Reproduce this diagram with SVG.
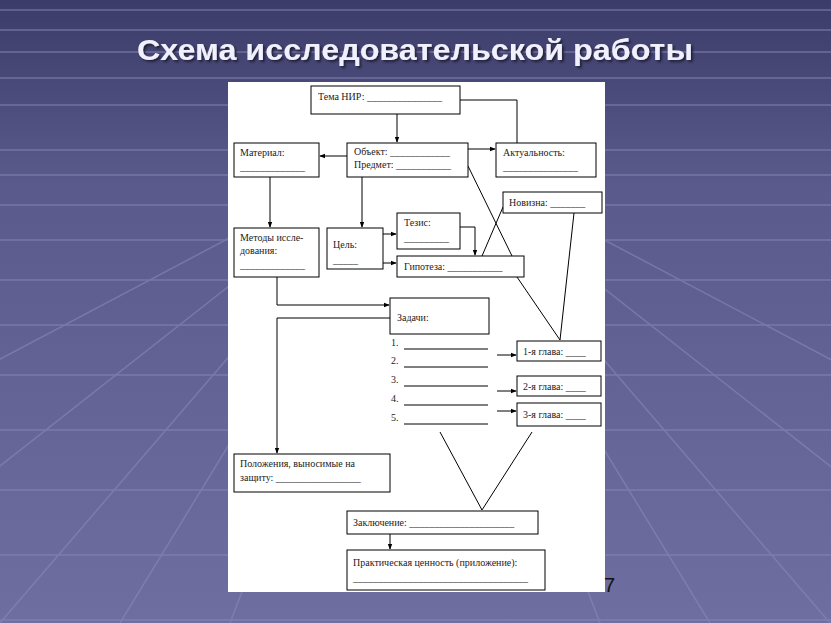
<svg xmlns="http://www.w3.org/2000/svg" width="831" height="623" viewBox="0 0 831 623">
<defs>
<linearGradient id="bg" x1="0" y1="0" x2="0" y2="1">
<stop offset="0" stop-color="#3c3c6a"/><stop offset="0.3" stop-color="#5a5a8c"/><stop offset="1" stop-color="#6e6ea0"/>
</linearGradient>
<filter id="sh"><feDropShadow dx="2" dy="2" stdDeviation="1" flood-color="#202038"/></filter>
<marker id="a" viewBox="0 0 8 8" refX="7" refY="4" markerWidth="6" markerHeight="6" orient="auto"><path d="M0,1 L8,4 L0,7 Z" fill="#000"/></marker>
<style>
.b{fill:#fff;stroke:#000;stroke-width:1}
.t{font-family:'Liberation Serif','Times New Roman','DejaVu Serif',serif;font-size:10px;fill:#222}
.c{fill:none;stroke:#000;stroke-width:1}
.g{stroke:#8a8ab8;stroke-width:1.5;fill:none;opacity:.6}
</style>
</defs>
<rect width="831" height="623" fill="url(#bg)"/>
<g class="g">
<path d="M0,150H831M0,175H831M0,205H831M0,240H831M0,280H831M0,325H831M0,375H831M0,430H831M0,490H831M0,555H831M0,620H831"/>
<path d="M415,140L-200,623M415,140L0,623M415,140L120,623M415,140L230,623M415,140L600,623M415,140L710,623M415,140L830,623M415,140L1030,623M415,140L-500,623M415,140L1330,623"/>
<path d="M0,10H831M0,30H831M0,52H831M0,78H831M0,105H831"/>
</g>
<text x="415" y="60" text-anchor="middle" font-family="Liberation Sans,Arial,sans-serif" font-size="29" font-weight="bold" fill="#f0f0ff" filter="url(#sh)" textLength="556" lengthAdjust="spacingAndGlyphs">Схема исследовательской работы</text>
<rect x="228" y="82" width="377" height="510" fill="#fff"/>
<text x="604" y="592" font-family="Liberation Sans,Arial,sans-serif" font-size="20" fill="#111">7</text>
<g id="connectors" class="c">
<path d="M397,114V142" marker-end="url(#a)"/>
<path d="M460,100H517V143"/>
<path d="M468,149H495" marker-end="url(#a)"/>
<path d="M347,156H320" marker-end="url(#a)"/>
<path d="M270,177V227" marker-end="url(#a)"/>
<path d="M362,177V227" marker-end="url(#a)"/>
<path d="M383,234H396" marker-end="url(#a)"/>
<path d="M383,263H396" marker-end="url(#a)"/>
<path d="M460,227H475V255" marker-end="url(#a)"/>
<path d="M468,166L512,256M517,277L560,340"/>
<path d="M503,207L482,256"/>
<path d="M574,213L560,340"/>
<path d="M277,277V305H389" marker-end="url(#a)"/>
<path d="M390,318H277V453" marker-end="url(#a)"/>
<path d="M497,355H516" marker-end="url(#a)"/>
<path d="M497,391H516" marker-end="url(#a)"/>
<path d="M497,411H516" marker-end="url(#a)"/>
<path d="M440,432L482,510L532,432"/>
<path d="M390,534V549" marker-end="url(#a)"/>
<path d="M404,349H488M404,367H488M404,386H488M404,405H488M404,424H488"/>
</g>
<g id="tema"><rect class="b" x="311" y="86" width="149" height="28"/><text class="t" x="318" y="100">Тема НИР: _______________</text></g>
<g id="material"><rect class="b" x="234" y="143" width="85" height="34"/><text class="t" x="240" y="156">Материал:</text><text class="t" x="240" y="170">_____________</text></g>
<g id="obekt"><rect class="b" x="347" y="143" width="121" height="34"/><text class="t" x="354" y="155">Объект: ____________</text><text class="t" x="354" y="168">Предмет: ___________</text></g>
<g id="aktual"><rect class="b" x="496" y="143" width="100" height="34"/><text class="t" x="503" y="156">Актуальность:</text><text class="t" x="503" y="170">_______________</text></g>
<g id="novizna"><rect class="b" x="503" y="192" width="99" height="21"/><text class="t" x="509" y="206">Новизна: _______</text></g>
<g id="metody"><rect class="b" x="234" y="228" width="85" height="49"/><text class="t" x="240" y="241">Методы иссле-</text><text class="t" x="240" y="254">дования:</text><text class="t" x="240" y="268">_____________</text></g>
<g id="cel"><rect class="b" x="327" y="228" width="56" height="41"/><text class="t" x="333" y="248">Цель:</text><text class="t" x="333" y="263">_____</text></g>
<g id="tezis"><rect class="b" x="397" y="213" width="63" height="36"/><text class="t" x="404" y="226">Тезис:</text><text class="t" x="404" y="241">_________</text></g>
<g id="gipoteza"><rect class="b" x="397" y="256" width="127" height="21"/><text class="t" x="404" y="270">Гипотеза: ___________</text></g>
<g id="zadachi"><rect class="b" x="390" y="298" width="99" height="36"/><text class="t" x="397" y="321">Задачи:</text>
<text class="t" x="391" y="346">1.</text><text class="t" x="391" y="364">2.</text><text class="t" x="391" y="383">3.</text><text class="t" x="391" y="402">4.</text><text class="t" x="391" y="421">5.</text></g>
<g id="glava1"><rect class="b" x="517" y="341" width="84" height="20"/><text class="t" x="523" y="355">1-я глава: ____</text></g>
<g id="glava2"><rect class="b" x="517" y="376" width="84" height="20"/><text class="t" x="523" y="390">2-я глава: ____</text></g>
<g id="glava3"><rect class="b" x="517" y="403" width="84" height="23"/><text class="t" x="523" y="418">3-я глава: ____</text></g>
<g id="polozh"><rect class="b" x="234" y="454" width="156" height="38"/><text class="t" x="240" y="467">Положения, выносимые на</text><text class="t" x="240" y="481">защиту: _________________</text></g>
<g id="zakl"><rect class="b" x="347" y="511" width="191" height="23"/><text class="t" x="353" y="526">Заключение: _____________________</text></g>
<g id="prakt"><rect class="b" x="347" y="550" width="198" height="40"/><text class="t" x="353" y="566">Практическая ценность (приложение):</text><text class="t" x="353" y="581">___________________________________</text></g>
</svg>
